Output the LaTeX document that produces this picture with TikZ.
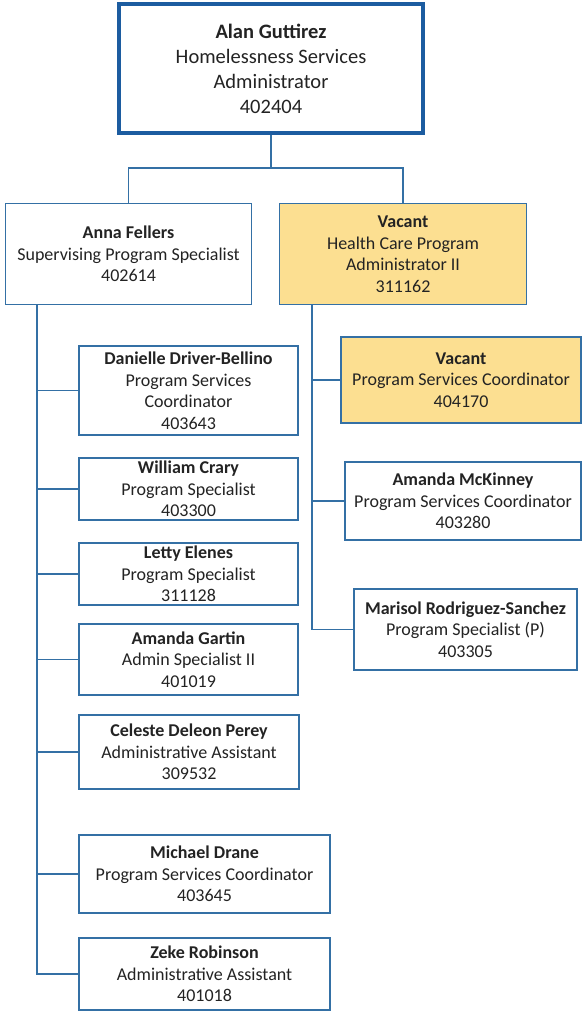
\documentclass[tikz,border=0pt]{standalone}
\usepackage{fontspec}
\setmainfont{Carlito}
\definecolor{bblue}{RGB}{52,112,165}
\definecolor{topblue}{RGB}{28,92,160}
\definecolor{vfill}{RGB}{252,223,145}
\definecolor{txt}{RGB}{35,35,35}
\tikzset{
  orgbox/.style={draw=bblue, line width=1.4pt, fill=white, inner sep=0pt, align=center,
    text=txt, font=\fontsize{18}{21.5}\selectfont},
  vacbox/.style={orgbox, fill=vfill},
  topbox/.style={orgbox, draw=topblue, line width=4.5pt, font=\fontsize{20.5}{25}\selectfont},
  conn/.style={draw=bblue, line width=1.5pt}
}
\begin{document}
\begin{tikzpicture}[x=1pt,y=-1pt]
\useasboundingbox[fill=white] (0,0) rectangle (583,1013);
% top
\node[topbox, minimum width=304, minimum height=129] (top) at (271,68.5)
  {\textbf{Alan Guttirez}\\Homelessness Services\\Administrator\\402404};
% level 2
\node[orgbox, minimum width=246, minimum height=101] (anna) at (128.5,254)
  {\textbf{Anna Fellers}\\Supervising Program Specialist\\402614};
\node[vacbox, minimum width=247, minimum height=101] (hcpa) at (403,254)
  {\textbf{Vacant}\\Health Care Program\\Administrator II\\311162};
% left children
\node[orgbox, minimum width=219, minimum height=89] (dan) at (188.5,390.5)
  {\textbf{Danielle Driver-Bellino}\\Program Services\\Coordinator\\403643};
\node[orgbox, minimum width=219, minimum height=62] (wil) at (188.5,489)
  {\textbf{William Crary}\\Program Specialist\\403300};
\node[orgbox, minimum width=219, minimum height=62] (let) at (188.5,574)
  {\textbf{Letty Elenes}\\Program Specialist\\311128};
\node[orgbox, minimum width=219, minimum height=71] (gar) at (188.5,659.5)
  {\textbf{Amanda Gartin}\\Admin Specialist II\\401019};
\node[orgbox, minimum width=220, minimum height=74] (cel) at (189,752)
  {\textbf{Celeste Deleon Perey}\\Administrative Assistant\\309532};
\node[orgbox, minimum width=251, minimum height=78] (mic) at (204.5,874)
  {\textbf{Michael Drane}\\Program Services Coordinator\\403645};
\node[orgbox, minimum width=251, minimum height=72] (zek) at (204.5,974)
  {\textbf{Zeke Robinson}\\Administrative Assistant\\401018};
% right children
\node[vacbox, minimum width=240, minimum height=86] (psc) at (461,380)
  {\textbf{Vacant}\\Program Services Coordinator\\404170};
\node[orgbox, minimum width=236, minimum height=78] (mck) at (463,501)
  {\textbf{Amanda McKinney}\\Program Services Coordinator\\403280};
\node[orgbox, minimum width=223, minimum height=81] (mar) at (465.5,629.5)
  {\textbf{Marisol Rodriguez-Sanchez}\\Program Specialist (P)\\403305};
% connectors
\coordinate (bus) at (271,168);
\coordinate (lv) at (37,305);
\coordinate (rv) at (312,305);
\draw[conn] (top.south) -- (bus);
\draw[conn] (bus) -| (anna.north);
\draw[conn] (bus) -| (hcpa.north);
\draw[conn] (anna.south -| lv) |- (zek.west);
\foreach \c in {dan,wil,let,gar,cel,mic}
  \draw[conn] (lv |- \c.west) -- (\c.west);
\draw[conn] (hcpa.south -| rv) |- (mar.west);
\foreach \c in {psc,mck}
  \draw[conn] (rv |- \c.west) -- (\c.west);
\end{tikzpicture}
\end{document}
